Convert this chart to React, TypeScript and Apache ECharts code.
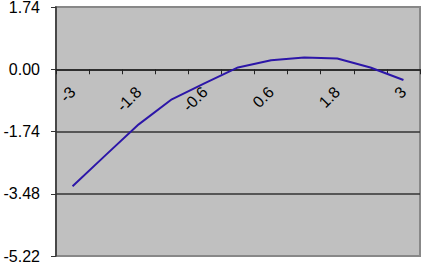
import React, { useEffect, useRef } from "react";
import * as echarts from "echarts";

const categories = ["-3", "-2.4", "-1.8", "-1.2", "-0.6", "0", "0.6", "1.2", "1.8", "2.4", "3"];
const values = [-3.27, -2.4, -1.54, -0.84, -0.39, 0.05, 0.25, 0.33, 0.3, 0.05, -0.3];
const yMin = -5.22;
const yMax = 1.74;
const yStep = 1.74;

const GRID_TOP = 7;
const GRID_BOTTOM = 10;
const HEIGHT = 266;

export default function App() {
  const ref = useRef<HTMLDivElement>(null);
  useEffect(() => {
    if (!ref.current) return;
    const chart = echarts.init(ref.current, undefined, { renderer: "svg" });
    const gridH = HEIGHT - GRID_TOP - GRID_BOTTOM;
    const zeroFromBottom = gridH * ((0 - yMin) / (yMax - yMin));
    chart.setOption({
      animation: false,
      backgroundColor: "#ffffff",
      grid: {
        left: 56,
        top: GRID_TOP,
        right: 5,
        bottom: GRID_BOTTOM,
        containLabel: false,
        outerBoundsMode: "none",
        show: true,
        backgroundColor: "#c0c0c0",
        borderColor: "#888888",
        borderWidth: 2,
      },
      xAxis: {
        type: "category",
        data: categories,
        boundaryGap: true,
        position: "bottom",
        offset: -zeroFromBottom,
        axisLine: { onZero: false, lineStyle: { color: "#222", width: 1.5 } },
        axisTick: { show: true, interval: 0, length: 5, lineStyle: { color: "#222" } },
        axisLabel: {
          interval: 1,
          rotate: 45,
          margin: 20,
          color: "#000",
          fontSize: 16,
          fontFamily: "Liberation Sans",
        },
        splitLine: { show: false },
      },
      yAxis: {
        type: "value",
        min: yMin,
        max: yMax,
        interval: yStep,
        axisLine: { show: true, lineStyle: { color: "#333", width: 1.5 } },
        axisTick: { show: true, length: 5, lineStyle: { color: "#333" } },
        axisLabel: {
          margin: 16,
          color: "#000",
          fontSize: 16,
          fontFamily: "Liberation Sans",
          formatter: (v: number) => v.toFixed(2),
        },
        splitLine: {
          show: true,
          showMinLine: false,
          showMaxLine: false,
          lineStyle: { color: "#333", width: 1.5 },
        },
      },
      series: [
        {
          type: "line",
          data: values,
          symbol: "none",
          smooth: false,
          lineStyle: { color: "#2c16a8", width: 2 },
        },
      ],
    });
    return () => chart.dispose();
  }, []);
  return (
    <div
      ref={ref}
      style={{ position: "fixed", left: 0, top: 0, width: 425, height: 266 }}
    />
  );
}
